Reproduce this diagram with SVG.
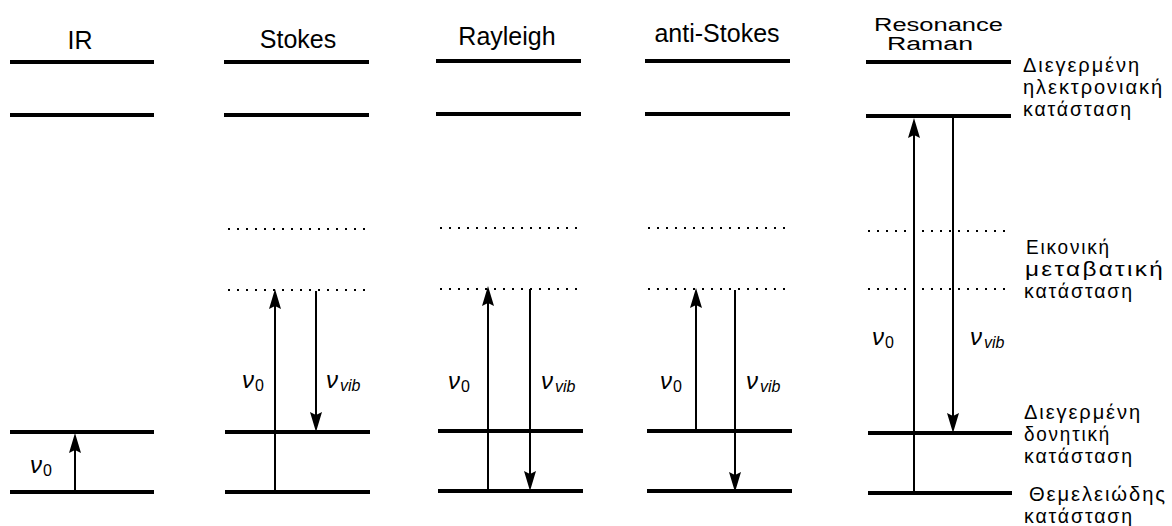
<svg xmlns="http://www.w3.org/2000/svg" width="1172" height="526" viewBox="0 0 1172 526">
<defs>
<marker id="ah" viewBox="-21 -7 22 14" markerWidth="22" markerHeight="14" refX="-12" refY="0" orient="auto" markerUnits="userSpaceOnUse"><path d="M0,0 L-20,-6 L-17,0 L-20,6 Z" fill="#000"/></marker>
</defs>
<style>
.lvl{stroke:#000;stroke-width:4;}
.vir{stroke:#000;stroke-width:2;stroke-dasharray:2 7;}
.arr{stroke:#000;stroke-width:2;fill:none;marker-end:url(#ah);}
.title{font-family:"Liberation Sans",Arial,sans-serif;font-size:25px;text-anchor:middle;fill:#000}
.rr{font-family:"Liberation Sans",Arial,sans-serif;font-size:18px;fill:#000}
.gr{font-family:"Liberation Sans","DejaVu Sans",sans-serif;font-size:21px;letter-spacing:2px;fill:#000}
.nu{font-family:"Liberation Sans",Arial,sans-serif;font-size:24px;font-style:italic;fill:#000}
.sub{font-size:16px;font-style:normal}
.subi{font-size:16px}
</style>
<rect width="1172" height="526" fill="#fff"/>

<g id="ir">
<text class="title" x="80" y="49">IR</text>
<line class="lvl" x1="10" y1="62" x2="154" y2="62"/>
<line class="lvl" x1="10" y1="115" x2="154" y2="115"/>
<line class="lvl" x1="10" y1="432" x2="154" y2="432"/>
<line class="lvl" x1="10" y1="492" x2="154" y2="492"/>
</g>

<g id="stokes">
<text class="title" x="298" y="48">Stokes</text>
<line class="lvl" x1="224" y1="62" x2="369" y2="62"/>
<line class="lvl" x1="224" y1="115" x2="369" y2="115"/>
<line class="vir" x1="228" y1="229" x2="368" y2="229"/>
<line class="vir" x1="228" y1="290" x2="368" y2="290"/>
<line class="lvl" x1="225" y1="432" x2="370" y2="432"/>
<line class="lvl" x1="225" y1="492" x2="370" y2="492"/>
</g>

<g id="rayleigh">
<text class="title" x="507" y="45">Rayleigh</text>
<line class="lvl" x1="436" y1="61" x2="581" y2="61"/>
<line class="lvl" x1="436" y1="114" x2="581" y2="114"/>
<line class="vir" x1="440" y1="228" x2="580" y2="228"/>
<line class="vir" x1="440" y1="289" x2="580" y2="289"/>
<line class="lvl" x1="438" y1="431" x2="583" y2="431"/>
<line class="lvl" x1="438" y1="491" x2="583" y2="491"/>
</g>

<g id="anti-stokes">
<text class="title" x="717" y="42">anti-Stokes</text>
<line class="lvl" x1="645" y1="61" x2="790" y2="61"/>
<line class="lvl" x1="645" y1="114" x2="790" y2="114"/>
<line class="vir" x1="648" y1="228" x2="788" y2="228"/>
<line class="vir" x1="648" y1="289" x2="788" y2="289"/>
<line class="lvl" x1="647" y1="431" x2="792" y2="431"/>
<line class="lvl" x1="647" y1="491" x2="792" y2="491"/>
</g>

<g id="resonance-raman">
<text class="rr"><tspan x="874" y="31" textLength="129" lengthAdjust="spacingAndGlyphs">Resonance</tspan><tspan x="887" y="50" textLength="86" lengthAdjust="spacingAndGlyphs">Raman</tspan></text>
<line class="lvl" x1="866" y1="62" x2="1011" y2="62"/>
<line class="lvl" x1="866" y1="116" x2="1011" y2="116"/>
<line class="vir" x1="868" y1="231" x2="1008" y2="231"/>
<line class="vir" x1="868" y1="289" x2="1008" y2="289"/>
<line class="lvl" x1="868" y1="433" x2="1012" y2="433"/>
<line class="lvl" x1="868" y1="493" x2="1012" y2="493"/>
</g>

<g id="state-labels">
<text class="gr" x="1023" y="72" textLength="118" lengthAdjust="spacingAndGlyphs">Διεγερμένη</text>
<text class="gr" x="1023" y="94" textLength="141" lengthAdjust="spacingAndGlyphs">ηλεκτρονιακή</text>
<text class="gr" x="1023" y="116" textLength="110" lengthAdjust="spacingAndGlyphs">κατάσταση</text>
<text class="gr" x="1026" y="254" textLength="85" lengthAdjust="spacingAndGlyphs">Εικονική</text>
<text class="gr" x="1025" y="276" textLength="140" lengthAdjust="spacingAndGlyphs">μεταβατική</text>
<text class="gr" x="1024" y="298" textLength="110" lengthAdjust="spacingAndGlyphs">κατάσταση</text>
<text class="gr" x="1024" y="419" textLength="118" lengthAdjust="spacingAndGlyphs">Διεγερμένη</text>
<text class="gr" x="1024" y="441" textLength="87" lengthAdjust="spacingAndGlyphs">δονητική</text>
<text class="gr" x="1024" y="463" textLength="110" lengthAdjust="spacingAndGlyphs">κατάσταση</text>
<text class="gr" x="1029" y="501" textLength="138" lengthAdjust="spacingAndGlyphs">Θεμελειώδης</text>
<text class="gr" x="1024" y="523" textLength="110" lengthAdjust="spacingAndGlyphs">κατάσταση</text>
</g>

<g id="transitions">
<line class="arr" x1="75" y1="492" x2="75" y2="445"/>
<line class="arr" x1="275" y1="492" x2="275" y2="301"/>
<line class="arr" x1="316" y1="291" x2="316" y2="420"/>
<line class="arr" x1="488" y1="491" x2="488" y2="298"/>
<line class="arr" x1="530" y1="289" x2="530" y2="479"/>
<line class="arr" x1="696" y1="431" x2="696" y2="300"/>
<line class="arr" x1="735" y1="290" x2="735" y2="480"/>
<line class="arr" x1="914" y1="493" x2="914" y2="130"/>
<line class="arr" x1="953" y1="116" x2="953" y2="421"/>
</g>

<g id="transition-labels">
<text class="nu" x="30" y="473">ν<tspan class="sub" dx="1" dy="3">0</tspan></text>
<text class="nu" x="242" y="388">ν<tspan class="sub" dx="1" dy="3">0</tspan></text>
<text class="nu" x="326" y="388">ν<tspan class="subi" dx="2" dy="3">vib</tspan></text>
<text class="nu" x="448" y="389">ν<tspan class="sub" dx="1" dy="3">0</tspan></text>
<text class="nu" x="541" y="389">ν<tspan class="subi" dx="2" dy="3">vib</tspan></text>
<text class="nu" x="660" y="389">ν<tspan class="sub" dx="1" dy="3">0</tspan></text>
<text class="nu" x="746" y="389">ν<tspan class="subi" dx="2" dy="3">vib</tspan></text>
<text class="nu" x="872" y="345">ν<tspan class="sub" dx="1" dy="3">0</tspan></text>
<text class="nu" x="970" y="345">ν<tspan class="subi" dx="2" dy="3">vib</tspan></text>
</g>
</svg>
